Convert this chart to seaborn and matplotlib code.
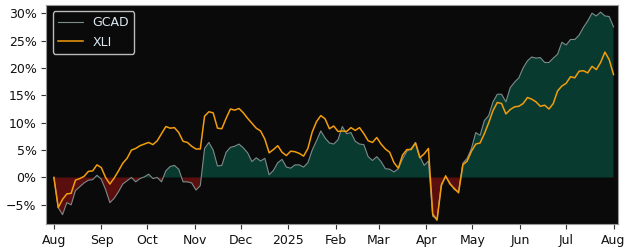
import pandas as pd
import matplotlib.pyplot as plt
import matplotlib.dates as mdates
from matplotlib.ticker import FuncFormatter
import seaborn as sns

# cumulative return (%) sampled every ~2.8 days, Aug 2024 -> Aug 2025
gcad = [0.0, -5.5, -6.8, -4.6, -5.0, -2.4, -1.7, -1.0, -0.5, -0.4,
        0.4, -0.3, -2.2, -4.6, -3.8, -2.6, -1.2, -0.6, 0.0, -0.8,
        -0.2, 0.1, 0.6, -0.2, 0.0, -0.8, 1.2, 2.0, 2.2, 1.5,
        -0.8, -0.8, -1.0, -2.3, -1.5, 5.3, 6.4, 5.0, 2.1, 2.2,
        4.6, 5.5, 5.7, 6.1, 5.4, 4.5, 2.9, 3.6, 3.0, 3.5,
        0.5, 1.3, 2.7, 3.3, 1.9, 1.7, 2.3, 2.3, 1.9, 2.7,
        5.0, 6.7, 8.5, 7.2, 6.3, 6.1, 6.9, 9.3, 8.0, 8.2,
        6.6, 6.1, 6.0, 3.8, 3.1, 3.8, 2.9, 1.6, 1.5, 1.0,
        1.6, 3.4, 4.8, 5.3, 6.4, 3.9, 2.2, 3.0, -7.1, -7.6,
        -1.2, 0.1, -1.0, -2.2, -2.6, 2.6, 3.5, 5.3, 8.2, 7.7,
        10.4, 11.3, 13.8, 15.2, 15.2, 13.8, 16.4, 17.4, 18.2, 20.0,
        21.3, 22.0, 21.8, 21.9, 21.0, 21.0, 21.8, 22.5, 24.7, 24.2,
        25.2, 25.2, 26.0, 27.4, 28.6, 30.0, 29.5, 30.2, 29.5, 29.4,
        27.5]
xli = [0.0, -5.5, -4.0, -3.0, -2.9, -0.5, -0.2, 0.2, 1.1, 1.2,
       2.3, 1.8, 0.0, -1.2, -0.1, 1.2, 2.6, 3.5, 5.0, 5.3,
       5.8, 6.1, 6.4, 6.0, 6.7, 8.0, 9.3, 9.0, 9.1, 8.2,
       6.6, 6.4, 5.7, 5.2, 5.2, 11.2, 12.0, 11.8, 9.0, 8.9,
       10.8, 12.5, 12.3, 12.6, 11.8, 10.8, 9.9, 9.0, 8.5, 7.0,
       4.5, 5.1, 5.8, 4.6, 4.0, 4.8, 4.7, 4.4, 3.9, 5.3,
       8.3, 10.2, 11.3, 10.7, 8.9, 9.4, 8.4, 8.5, 8.4, 9.1,
       8.6, 9.1, 8.0, 6.7, 6.4, 7.3, 6.1, 5.2, 4.6, 2.7,
       1.7, 4.1, 5.1, 5.1, 6.3, 3.6, 4.3, 5.3, -6.7, -7.8,
       -1.5, 0.3, -1.2, -2.0, -2.8, 2.3, 3.0, 4.8, 6.1, 6.3,
       8.0, 10.0, 12.2, 13.7, 13.5, 11.6, 12.4, 12.9, 13.0, 13.5,
       14.6, 14.3, 13.8, 13.0, 13.2, 12.5, 13.5, 15.8, 16.7, 17.2,
       18.4, 18.2, 19.4, 19.5, 19.1, 20.3, 19.7, 21.0, 22.9, 21.5,
       18.8]
dates = pd.date_range("2024-08-01", "2025-08-01", periods=len(gcad))

df = pd.DataFrame({"date": dates, "GCAD": gcad, "XLI": xli})

fig = plt.figure(figsize=(6.25, 2.5), dpi=100)
ax = fig.add_axes([0.074, 0.104, 0.915, 0.876])
ax.set_facecolor("#0a0a0a")

ax.fill_between(df["date"], df["GCAD"], 0, where=df["GCAD"] >= 0,
                interpolate=True, color="#083a30", linewidth=0)
ax.fill_between(df["date"], df["GCAD"], 0, where=df["GCAD"] < 0,
                interpolate=True, color="#5a0f0e", linewidth=0)

sns.lineplot(data=df, x="date", y="GCAD", ax=ax, color="#7d8b8b",
             linewidth=0.8, label="GCAD")
sns.lineplot(data=df, x="date", y="XLI", ax=ax, color="#f29d0c",
             linewidth=1.1, label="XLI")

ax.set_xlim(pd.Timestamp("2024-07-27"), pd.Timestamp("2025-08-04"))
ax.set_ylim(-8.5, 31.5)
ax.set_yticks(range(-5, 31, 5))
ax.yaxis.set_major_formatter(FuncFormatter(lambda v, p: f"{v:.0f}%".replace("-", "\u2212")))

ax.xaxis.set_major_locator(mdates.MonthLocator())
ax.xaxis.set_major_formatter(FuncFormatter(
    lambda v, p: mdates.num2date(v).strftime("%Y") if mdates.num2date(v).month == 1
    else mdates.num2date(v).strftime("%b")))
ax.set_xlabel("")
ax.set_ylabel("")
ax.tick_params(labelsize=9, colors="#333333", labelcolor="#111111")
for s in ax.spines.values():
    s.set_color("#999999")

leg = ax.legend(loc="upper left", fontsize=9, facecolor="#0a0a0a",
                edgecolor="#bbbbbb", framealpha=1)
for t in leg.get_texts():
    t.set_color("#dde8f0")

fig.savefig("out.png", dpi=100)
